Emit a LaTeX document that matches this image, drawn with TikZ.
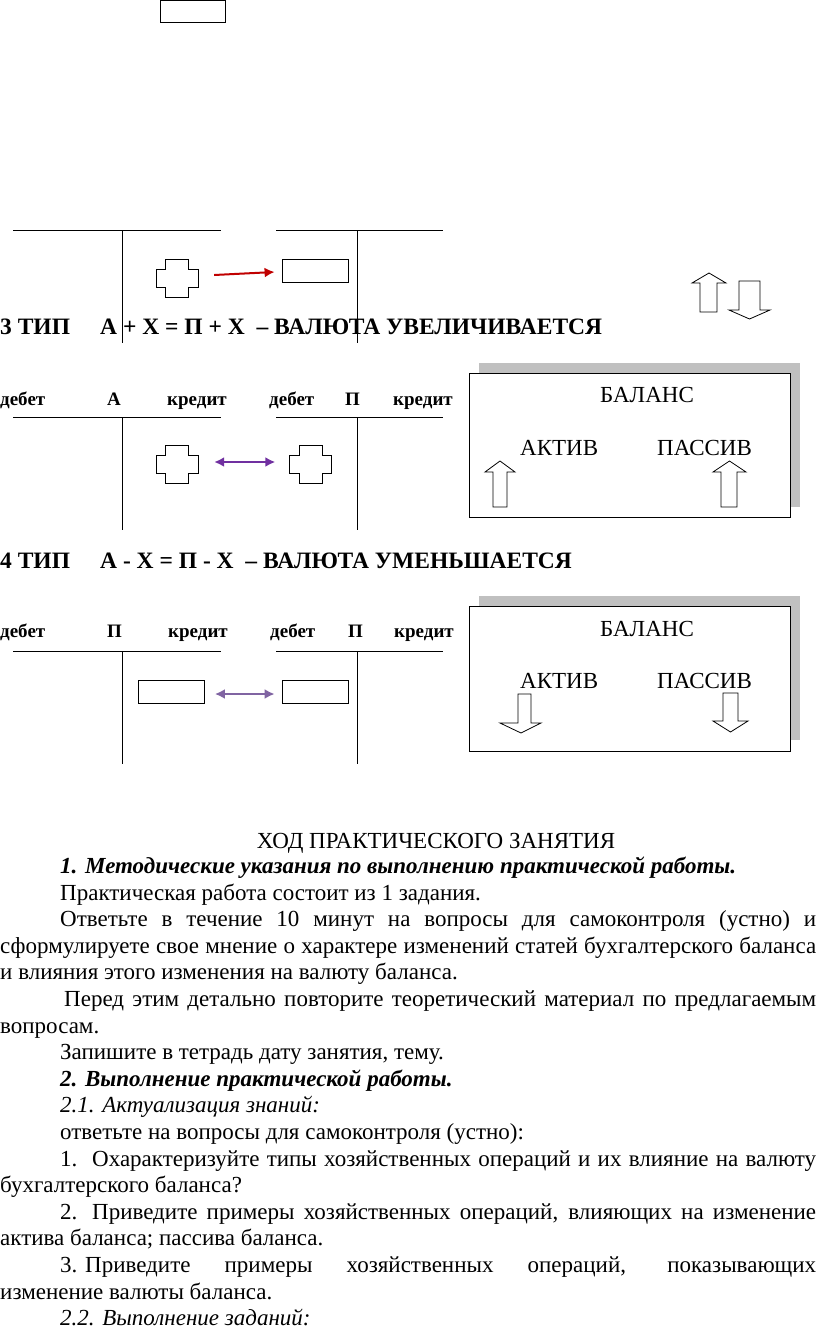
\documentclass[tikz,border=0pt]{standalone}
\usepackage{fontspec}
\setmainfont{Liberation Serif}
\usetikzlibrary{arrows.meta}
\definecolor{redarr}{HTML}{C00000}
\definecolor{purarr}{HTML}{7030A0}
\definecolor{purarrb}{HTML}{8064A2}
\definecolor{shadowgray}{HTML}{C0C0C0}
\begin{document}
\begin{tikzpicture}[x=1pt,y=-1pt,
  tl/.style={line width=1pt},
  lbl/.style={font=\fontsize{19}{22}\selectfont\bfseries, inner sep=0pt, anchor=base west},
  hd/.style={font=\fontsize{23.5}{27}\selectfont\bfseries, inner sep=0pt, anchor=base west},
  body/.style={font=\fontsize{23}{27}\selectfont, inner sep=0pt, anchor=base west},
  bal/.style={font=\fontsize{23}{27}\selectfont, inner sep=0pt, anchor=base west},
  rbox/.style={draw, line width=0.8pt, inner sep=0pt, minimum width=66pt, minimum height=23pt},
  cbox/.style={inner sep=0pt, minimum width=42pt, minimum height=38pt},
  barrow/.style={draw, line width=0.8pt, fill=white, line join=miter},
  carrow/.style={line width=2pt, -{Latex[length=10pt,width=10pt]}},
  darrow/.style={line width=2pt, {Latex[length=10pt,width=10pt]}-{Latex[length=10pt,width=10pt]}},
  crossp/.pic={\draw[line width=0.8pt] (-11.5,-19) -- (11.5,-19) -- (11.5,-9) -- (21,-9) -- (21,9) -- (11.5,9) -- (11.5,19) -- (-11.5,19) -- (-11.5,9) -- (-21,9) -- (-21,-9) -- (-11.5,-9) -- cycle;}
]
\useasboundingbox (0,0) rectangle (816,1336);

% top fragment
\node[draw, line width=0.8pt, inner sep=0pt, minimum width=65pt, minimum height=22pt] (topbox) at (192.5,11.5) {};

% previous T accounts
\draw[tl] (13,230) -- (221,230);
\draw[tl] (276,230) -- (443,230);
\draw[tl] (122,230) -- (122,343);
\draw[tl] (357,230) -- (357,343);
\node[cbox] (c0) at (177,278) {};
\pic at (c0) {crossp};
\node[rbox] (r0) at (315,270.5) {};
\draw[carrow, redarr] ([shift={(16,-3)}]c0.east) -- ([shift={(-7,1.5)}]r0.west);

% top block arrows
\draw[barrow] (709,273) -- (726,283) -- (717,283) -- (717,312) -- (700,312) -- (700,283) -- (692,283) -- cycle;
\draw[barrow] (739,281) -- (760,281) -- (760,310) -- (770,310) -- (749.5,319) -- (729,310) -- (739,310) -- cycle;

% 3 TYPE heading
\node[hd] (h3a) at (0,334) {3 ТИП};
\node[hd] (h3b) at (100,334) {А + Х = П + Х \ – ВАЛЮТА УВЕЛИЧИВАЕТСЯ};
\draw[tl] (122,320) -- (122,343);

% row 3 labels
\node[lbl] (d1) at (0,405) {дебет};
\node[lbl] (a1) at (107,405) {А};
\node[lbl] (k1) at (167,405) {кредит};
\node[lbl] (d2) at (269,405) {дебет};
\node[lbl] (p2) at (345,405) {П};
\node[lbl] (k2) at (393,405) {кредит};
\draw[tl] (13,417) -- (221,417);
\draw[tl] (276,417) -- (443,417);
\draw[tl] (122,417) -- (122,530);
\draw[tl] (357,417) -- (357,530);
\node[cbox] (c1) at (177,464.5) {};
\pic at (c1) {crossp};
\node[cbox] (c2) at (310.5,464.5) {};
\pic at (c2) {crossp};
\draw[darrow, purarr] ([shift={(16,-2.5)}]c1.east) -- ([shift={(-14,-2.5)}]c2.west);

% balance box 1
\fill[shadowgray] (479,363) rectangle (800,507);
\node[draw, line width=1pt, fill=white, inner sep=0pt, minimum width=321pt, minimum height=144pt] (bal1) at (629.5,445) {};
\node[bal] (b1t) at (600,402) {БАЛАНС};
\node[bal] (b1a) at (520,455) {АКТИВ};
\node[bal] (b1p) at (657,455) {ПАССИВ};
\draw[barrow] (500,461) -- (515,472) -- (507,472) -- (507,507) -- (493,507) -- (493,472) -- (485,472) -- cycle;
\draw[barrow] (729.5,461) -- (746,472) -- (737,472) -- (737,507) -- (721,507) -- (721,472) -- (713,472) -- cycle;

% 4 TYPE heading
\node[hd] (h4a) at (0,568) {4 ТИП};
\node[hd] (h4b) at (100,568) {А - Х = П - Х \ – ВАЛЮТА УМЕНЬШАЕТСЯ};

% row 4 labels
\node[lbl] (d3) at (0,637) {дебет};
\node[lbl] (p3) at (107,637) {П};
\node[lbl] (k3) at (168,637) {кредит};
\node[lbl] (d4) at (270,637) {дебет};
\node[lbl] (p4) at (348,637) {П};
\node[lbl] (k4) at (394,637) {кредит};
\draw[tl] (13,651) -- (221,651);
\draw[tl] (276,651) -- (443,651);
\draw[tl] (122,651) -- (122,764);
\draw[tl] (357,651) -- (357,764);
\node[rbox] (r3) at (171.5,691.5) {};
\node[rbox] (r4) at (315,691.5) {};
\draw[darrow, purarrb] ([shift={(10,2.5)}]r3.east) -- ([shift={(-7,2.5)}]r4.west);

% balance box 2
\fill[shadowgray] (479,596) rectangle (800,740);
\node[draw, line width=1pt, fill=white, inner sep=0pt, minimum width=321pt, minimum height=145pt] (bal2) at (629.5,678.5) {};
\node[bal] (b2t) at (600,636) {БАЛАНС};
\node[bal] (b2a) at (520,688) {АКТИВ};
\node[bal] (b2p) at (657,688) {ПАССИВ};
\draw[barrow] (518,694) -- (531,694) -- (531,723) -- (541,723) -- (521,733) -- (500,723) -- (518,723) -- cycle;
\draw[barrow] (723,693) -- (738,693) -- (738,721) -- (748,721) -- (730.5,732) -- (713,721) -- (723,721) -- cycle;

% text
\node[body, anchor=base] (t1) at (436,848) {ХОД ПРАКТИЧЕСКОГО ЗАНЯТИЯ};
\node[body, font=\fontsize{23}{27}\selectfont\bfseries\itshape] (t2) at (60,873) {1. Методические указания по выполнению практической работы.};
\node[body] (t3) at (60,900) {Практическая работа состоит из 1 задания.};
\node[body] (t4) at (60,926.6) {\makebox[756pt][s]{Ответьте в течение 10 минут на вопросы для самоконтроля (устно) и}};
\node[body] (t5) at (0,953.2) {\makebox[816pt][s]{сформулируете свое мнение о характере изменений статей бухгалтерского баланса}};
\node[body] (t6) at (0,979.8) {и влияния этого изменения на валюту баланса.};
\node[body] (t7) at (64,1006.4) {\makebox[752pt][s]{Перед этим детально повторите теоретический материал по предлагаемым}};
\node[body] (t8) at (0,1033) {вопросам.};
\node[body] (t9) at (60,1059.6) {Запишите в тетрадь дату занятия, тему.};
\node[body, font=\fontsize{23}{27}\selectfont\bfseries\itshape] (t10) at (60,1086.2) {2. Выполнение практической работы.};
\node[body, font=\fontsize{23}{27}\selectfont\itshape] (t11) at (60,1112.8) {2.1. Актуализация знаний:};
\node[body] (t12) at (60,1139.4) {ответьте на вопросы для самоконтроля (устно):};
\node[body] (t13n) at (60,1166) {1.};
\node[body] (t13) at (92,1166) {\makebox[724pt][s]{Охарактеризуйте типы хозяйственных операций и их влияние на валюту}};
\node[body] (t14) at (0,1192.6) {бухгалтерского баланса?};
\node[body] (t15n) at (60,1219.2) {2.};
\node[body] (t15) at (92,1219.2) {\makebox[724pt][s]{Приведите примеры хозяйственных операций, влияющих на изменение}};
\node[body] (t16) at (0,1245.8) {актива баланса; пассива баланса.};
\node[body] (t17n) at (60,1272.4) {3.};
\node[body] (t17) at (85,1272.4) {\makebox[731pt][s]{Приведите примеры хозяйственных операций, показывающих}};
\node[body] (t18) at (0,1299) {изменение валюты баланса.};
\node[body, font=\fontsize{23}{27}\selectfont\itshape] (t19) at (60,1325.6) {2.2. Выполнение заданий:};
\end{tikzpicture}
\end{document}
